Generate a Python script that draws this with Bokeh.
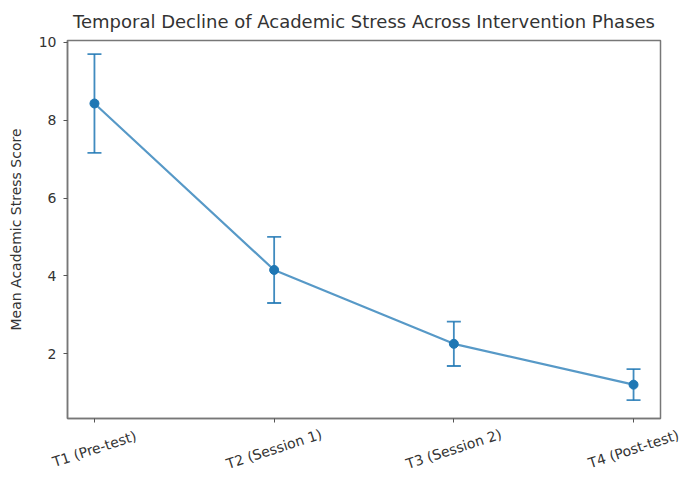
import math
from bokeh.plotting import figure
from bokeh.layouts import column
from bokeh.models import ColumnDataSource, Whisker, TeeHead, FixedTicker, Range1d
from bokeh.core.properties import value
from bokeh.embed import file_html
from bokeh.resources import INLINE

phases = ["T1 (Pre-test)", "T2 (Session 1)", "T3 (Session 2)", "T4 (Post-test)"]
means = [8.43, 4.15, 2.25, 1.20]
errors = [1.27, 0.85, 0.57, 0.40]

xs = list(range(len(phases)))
src = ColumnDataSource(dict(
    x=xs, y=means,
    upper=[m + e for m, e in zip(means, errors)],
    lower=[m - e for m, e in zip(means, errors)],
))

W = 681
BL, BR = 67, 21
X0, X1 = -0.15, 3.15
Y0, Y1 = 0.33, 10.05
MAIN_H = 426

p = figure(width=W, height=MAIN_H, output_backend="svg", toolbar_location=None,
           x_range=Range1d(X0, X1), y_range=Range1d(Y0, Y1),
           title="Temporal Decline of Academic Stress Across Intervention Phases")
p.min_border_left = BL
p.min_border_right = BR
p.min_border_top = 39
p.min_border_bottom = 8
p.frame_align = False

p.title.align = "center"
p.title.text_font = "DejaVu Sans"
p.title.text_font_size = "18px"
p.title.text_font_style = "normal"
p.title.text_color = "#333333"
p.title.standoff = 17

p.line("x", "y", source=src, line_color="#1f77b4", line_width=2.2, line_alpha=0.75)
w = Whisker(source=src, base="x", upper="upper", lower="lower",
            line_color="#1f77b4", line_width=1.8, line_alpha=0.85,
            upper_head=TeeHead(size=14, line_color="#1f77b4", line_width=1.8, line_alpha=0.85),
            lower_head=TeeHead(size=14, line_color="#1f77b4", line_width=1.8, line_alpha=0.85))
p.add_layout(w)
p.scatter("x", "y", source=src, size=9, fill_color="#1f77b4", line_color="#1f77b4")

p.xgrid.visible = False
p.ygrid.visible = False
p.outline_line_color = "#777777"
p.outline_line_width = 1.5

p.xaxis.ticker = FixedTicker(ticks=xs)
p.xaxis.major_label_text_alpha = 0
p.xaxis.major_label_text_font_size = "1px"
p.xaxis.major_label_standoff = 0
p.yaxis.ticker = FixedTicker(ticks=[2, 4, 6, 8, 10])
p.yaxis.axis_label = "Mean Academic Stress Score"
p.yaxis.axis_label_standoff = 12
p.yaxis.major_label_standoff = 7

for ax in (p.xaxis, p.yaxis):
    ax.axis_line_color = "#777777"
    ax.axis_line_width = 1.5
    ax.major_tick_line_color = "#555555"
    ax.major_tick_in = 0
    ax.major_tick_out = 4
    ax.minor_tick_line_color = None
    ax.axis_label_text_font = "DejaVu Sans"
    ax.axis_label_text_font_size = "14px"
    ax.axis_label_text_font_style = "normal"
    ax.axis_label_text_color = "#333333"
p.yaxis.major_label_text_font = "DejaVu Sans"
p.yaxis.major_label_text_font_size = "14px"
p.yaxis.major_label_text_color = "#333333"

# tick-label strip below, sharing the main plot's x scale (full-width frame)
ppu = (W - BL - BR) / (X1 - X0)
LH = 52
q = figure(width=W, height=LH, output_backend="svg", toolbar_location=None,
           x_range=Range1d(X0 - BL / ppu, X1 + BR / ppu), y_range=Range1d(0, 1))
q.min_border_left = q.min_border_right = q.min_border_top = q.min_border_bottom = 0
q.frame_align = False
q.axis.visible = False
q.grid.visible = False
q.outline_line_color = None
lab_src = ColumnDataSource(dict(x=xs, y=[0.57] * len(xs), text=phases))
q.text("x", "y", text="text", source=lab_src, angle=math.radians(18),
       text_align="center", text_baseline="middle",
       text_font=value("DejaVu Sans"), text_font_size="14px", text_color="#333333")

layout = column(p, q, spacing=0)
open("out.html", "w").write(file_html(layout, INLINE))
